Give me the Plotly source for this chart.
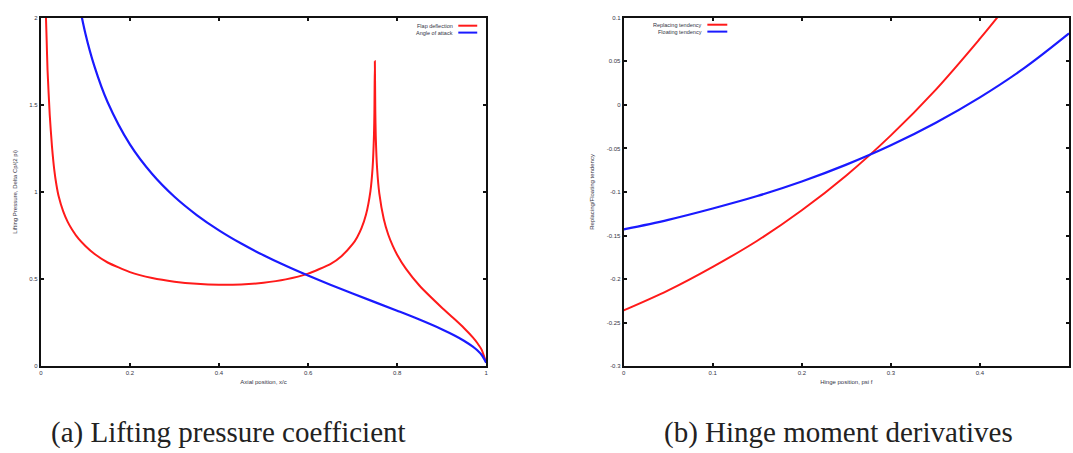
import plotly.graph_objects as go

# ---------------- data: (a) lifting pressure coefficient ----------------
flap_x = [0.010, 0.0115, 0.013, 0.015, 0.020, 0.025, 0.030, 0.035, 0.040, 0.050, 0.060,
          0.070, 0.085, 0.100, 0.120, 0.150, 0.200, 0.250, 0.300, 0.350, 0.400, 0.450,
          0.500, 0.550, 0.600, 0.650, 0.675, 0.700, 0.710, 0.720, 0.730, 0.740, 0.745,
          0.748, 0.749, 0.750, 0.751, 0.752, 0.755, 0.760, 0.770, 0.780, 0.790, 0.800,
          0.820, 0.850, 0.900, 0.930, 0.950, 0.970, 0.980, 0.990, 1.000]
flap_y = [2.135, 2.000, 1.874, 1.700, 1.440, 1.260, 1.130, 1.040, 0.975, 0.890, 0.830,
          0.785, 0.730, 0.690, 0.645, 0.595, 0.540, 0.506, 0.485, 0.4725, 0.467, 0.469,
          0.479, 0.498, 0.531, 0.586, 0.6315, 0.700, 0.739, 0.792, 0.869, 1.004, 1.141,
          1.325, 1.457, 1.750, 1.464, 1.323, 1.136, 0.992, 0.845, 0.756, 0.692, 0.640,
          0.558, 0.463, 0.337, 0.2675, 0.219, 0.165, 0.133, 0.093, 0.020]

aoa_x = [0.080, 0.100, 0.120, 0.150, 0.200, 0.250, 0.300, 0.350, 0.400, 0.450, 0.500,
         0.550, 0.600, 0.650, 0.700, 0.750, 0.800, 0.850, 0.900, 0.930, 0.950, 0.970,
         0.980, 0.990, 1.000]
aoa_y = [2.159, 1.910, 1.724, 1.515, 1.273, 1.103, 0.9724, 0.8676, 0.7797, 0.7038, 0.6366,
         0.5758, 0.5198, 0.4671, 0.4168, 0.3675, 0.3183, 0.2674, 0.2122, 0.1747, 0.1460,
         0.1120, 0.0909, 0.0640, 0.020]

# ---------------- data: (b) hinge moment derivatives ----------------
hinge_x = [0.00, 0.05, 0.10, 0.15, 0.20, 0.25, 0.30, 0.35, 0.40, 0.42]
replacing_y = [-0.236, -0.213, -0.186, -0.156, -0.121, -0.081, -0.035, 0.017, 0.076, 0.101]

float_x = [0.00, 0.05, 0.10, 0.15, 0.20, 0.25, 0.30, 0.35, 0.40, 0.45, 0.50]
floating_y = [-0.143, -0.132, -0.119, -0.1047, -0.088, -0.0686, -0.0464, -0.0208, 0.0086, 0.0424, 0.082]

# tick labels
a_xticks = [0, 0.2, 0.4, 0.6, 0.8, 1]
a_xlabels = ["0", "0.2", "0.4", "0.6", "0.8", "1"]
a_yticks = [0, 0.5, 1, 1.5, 2]
a_ylabels = ["0", "0.5", "1", "1.5", "2"]
b_xticks = [0, 0.1, 0.2, 0.3, 0.4, 0.5]
b_xlabels = ["0", "0.1", "0.2", "0.3", "0.4", "0.5"]
b_yticks = [0.1, 0.05, 0, -0.05, -0.1, -0.15, -0.2, -0.25, -0.3]
b_ylabels = ["0.1", "0.05", "0", "-0.05", "-0.1", "-0.15", "-0.2", "-0.25", "-0.3"]

RED = "#ff1a1a"
BLUE = "#1a1aff"
FRAME = "#111111"
W, H = 1073, 453

fig = go.Figure()
fig.add_trace(go.Scatter(x=flap_x, y=flap_y, mode="lines", line=dict(color=RED, width=2, shape="spline", smoothing=0.5),
                         name="Flap deflection", xaxis="x", yaxis="y", showlegend=False))
fig.add_trace(go.Scatter(x=aoa_x, y=aoa_y, mode="lines", line=dict(color=BLUE, width=2.2, shape="spline"),
                         name="Angle of attack", xaxis="x", yaxis="y", showlegend=False))
fig.add_trace(go.Scatter(x=hinge_x, y=replacing_y, mode="lines", line=dict(color=RED, width=2, shape="spline"),
                         name="Replacing tendency", xaxis="x2", yaxis="y2", showlegend=False))
fig.add_trace(go.Scatter(x=float_x, y=floating_y, mode="lines", line=dict(color=BLUE, width=2.2, shape="spline"),
                         name="Floating tendency", xaxis="x2", yaxis="y2", showlegend=False))

FONT = "Liberation Sans, Arial, sans-serif"
tickfont = dict(family=FONT, size=6, color="#333344")
common = dict(showline=True, linecolor=FRAME, linewidth=2, mirror="allticks", ticks="inside",
              ticklen=3, tickwidth=1.5, tickcolor=FRAME, showgrid=False, zeroline=False,
              tickfont=tickfont)
tfont = dict(family=FONT, size=6, color="#333344")

L1, R1, L2, R2, TOP, BOT = 39, 486, 624, 1071, 15, 368
ydom = [(H - BOT) / H, (H - TOP) / H]
fig.update_layout(
    width=W, height=H, margin=dict(l=0, r=0, t=0, b=0),
    paper_bgcolor="white", plot_bgcolor="white",
    xaxis=dict(domain=[L1 / W, R1 / W], range=[0, 1], tickvals=a_xticks, ticktext=a_xlabels,
               title=dict(text="Axial position, x/c", standoff=4, font=tfont), anchor="y", **common),
    yaxis=dict(domain=ydom, range=[0, 2], tickvals=a_yticks, ticktext=a_ylabels,
               title=dict(text="Lifting Pressure, Delta Cp/(2 pi)", standoff=11, font=tfont), anchor="x", **common),
    xaxis2=dict(domain=[L2 / W, R2 / W], range=[0, 0.5], tickvals=b_xticks, ticktext=b_xlabels,
                title=dict(text="Hinge position, psi f", standoff=4, font=tfont), anchor="y2", **common),
    yaxis2=dict(domain=ydom, range=[-0.3, 0.1], tickvals=b_yticks, ticktext=b_ylabels,
                title=dict(text="Replacing/Floating tendency", standoff=12, font=tfont), anchor="x2", **common),
    showlegend=False,
)


def px(x):
    return x / W


def py(y):
    return 1 - y / H


# gnuplot-style keys (text right-aligned, then line sample)
keyfont = dict(family=FONT, size=5.5, color="#333344")
keys = [
    (455, 23, "Flap deflection", RED, 458, 477),
    (455, 30, "Angle of attack", BLUE, 458, 477),
    (705, 22, "Replacing tendency", RED, 708, 728),
    (705, 29, "Floating tendency", BLUE, 708, 728),
]
for tx, ty, label, col, l0, l1 in keys:
    fig.add_annotation(x=px(tx), y=py(ty), xref="paper", yref="paper", text=label,
                       showarrow=False, xanchor="right", yanchor="middle", font=keyfont)
    fig.add_shape(type="line", xref="paper", yref="paper", x0=px(l0), x1=px(l1),
                  y0=py(ty), y1=py(ty), line=dict(color=col, width=2))

capfont = dict(family="Liberation Serif, DejaVu Serif, serif", size=29, color="#222222")
fig.add_annotation(x=px(227), y=py(435), xref="paper", yref="paper",
                   text="(a) Lifting pressure coefficient", showarrow=False,
                   xanchor="center", yanchor="middle", font=capfont)
fig.add_annotation(x=px(840), y=py(435), xref="paper", yref="paper",
                   text="(b) Hinge moment derivatives", showarrow=False,
                   xanchor="center", yanchor="middle", font=capfont)

fig.write_html("out.html")
